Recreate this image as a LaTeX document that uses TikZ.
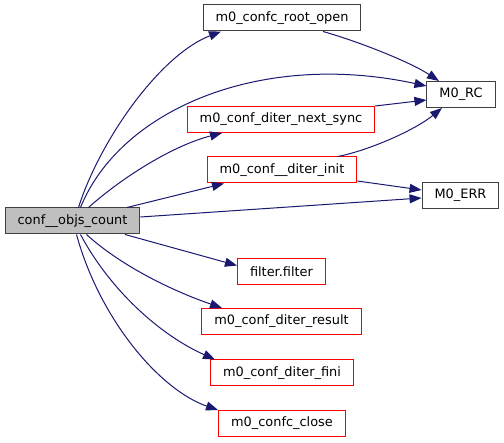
\documentclass[tikz,border=0pt]{standalone}
\usepackage{fontspec}
\setmainfont{DejaVu Sans}
\usetikzlibrary{arrows.meta}
\definecolor{edgeBlue}{RGB}{25,25,112}
\definecolor{rootGray}{RGB}{191,191,191}
\definecolor{borderDark}{RGB}{64,64,64}
\definecolor{linkRed}{RGB}{255,0,0}
\tikzset{
    funcbox/.style={
        rectangle,
        draw=borderDark,
        line width=1pt,
        fill=white,
        inner xsep=12.5pt,
        inner ysep=0pt,
        minimum height=26pt,
        font=\fontsize{12.9}{15}\selectfont
    },
    linkbox/.style={funcbox, draw=linkRed},
    rootbox/.style={funcbox, fill=rootGray},
    callarrow/.style={-{Triangle[length=12pt, width=9pt]}, line width=1pt, draw=edgeBlue}
}

\begin{document}
\begin{tikzpicture}[x=1pt,y=-1pt]
        \useasboundingbox (0,0) rectangle (504,443);
        \node[rootbox] (count) at (72.5,221) {conf\_\_objs\_count};
        \node[funcbox] (rootopen) at (282,18) {m0\_confc\_root\_open};
        \node[linkbox] (nextsync) at (281,119.5) {m0\_conf\_diter\_next\_sync};
        \node[linkbox] (diterinit) at (282,170) {m0\_conf\_\_diter\_init};
        \node[linkbox, line width=1.1pt] (filterfn) at (281.5,271.5) {filter.filter};
        \node[linkbox] (result) at (281.5,321.5) {m0\_conf\_diter\_result};
        \node[linkbox] (fini) at (282,373) {m0\_conf\_diter\_fini};
        \node[linkbox] (close) at (282,423.5) {m0\_confc\_close};
        \node[funcbox] (mrc) at (461,94.5) {M0\_RC};
        \node[funcbox] (merr) at (460.5,195.5) {M0\_ERR};

        \draw[callarrow] ([xshift=6pt]count.north) .. controls (100,140) and (160,55) .. ([xshift=-61pt]rootopen.south);
        \draw[callarrow] ([xshift=8pt]count.north) .. controls (120,110) and (260,50) .. ([yshift=8.5pt]mrc.west);
        \draw[callarrow] ([xshift=16pt]count.north) .. controls (125,175) and (175,145) .. ([xshift=-59pt]nextsync.south);
        \draw[callarrow] ([xshift=54.5pt]count.north) -- ([xshift=-58pt]diterinit.south);
        \draw[callarrow] ([yshift=4pt]count.east) -- ([yshift=-2.5pt]merr.west);
        \draw[callarrow] ([xshift=52.5pt]count.south) -- ([yshift=6pt]filterfn.west);
        \draw[callarrow] ([xshift=14pt]count.south) .. controls (120,265) and (170,290) .. ([xshift=-59.5pt]result.north);
        \draw[callarrow] ([xshift=8pt]count.south) .. controls (110,290) and (160,335) .. ([xshift=-67pt]fini.north);
        \draw[callarrow] ([xshift=4pt]count.south) .. controls (100,320) and (160,390) .. ([xshift=-64pt]close.north);
        \draw[callarrow] ([xshift=41pt]rootopen.south) .. controls (360,42) and (410,62) .. ([xshift=-22pt]mrc.north);
        \draw[callarrow] (nextsync.north east) -- ([yshift=-5.5pt]mrc.west);
        \draw[callarrow] ([xshift=56pt]diterinit.north) .. controls (370,150) and (415,130) .. ([xshift=-19pt]mrc.south);
        \draw[callarrow] ([yshift=-11pt]diterinit.east) -- ([yshift=5.5pt]merr.west);
    \end{tikzpicture}
\end{document}
